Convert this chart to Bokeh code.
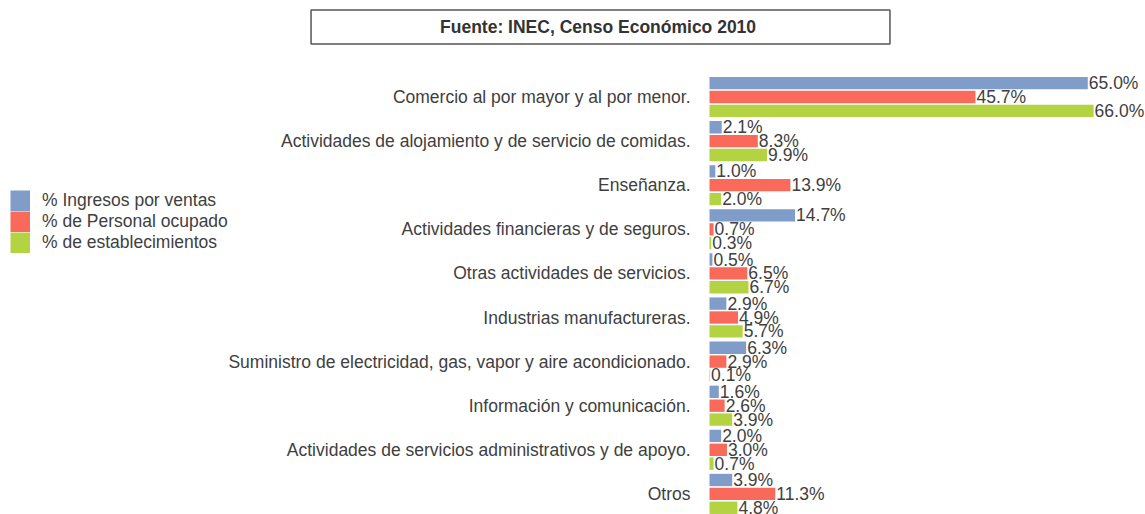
from bokeh.plotting import figure
from bokeh.models import ColumnDataSource, Range1d, Legend, LegendItem, Label
from bokeh.core.properties import value
from bokeh.embed import file_html
from bokeh.resources import INLINE

categories = [
    "Comercio al por mayor y al por menor.",
    "Actividades de alojamiento y de servicio de comidas.",
    "Enseñanza.",
    "Actividades financieras y de seguros.",
    "Otras actividades de servicios.",
    "Industrias manufactureras.",
    "Suministro de electricidad, gas, vapor y aire acondicionado.",
    "Información y comunicación.",
    "Actividades de servicios administrativos y de apoyo.",
    "Otros",
]
ingresos = [65.0, 2.1, 1.0, 14.7, 0.5, 2.9, 6.3, 1.6, 2.0, 3.9]
personal = [45.7, 8.3, 13.9, 0.7, 6.5, 4.9, 2.9, 2.6, 3.0, 11.3]
establecimientos = [66.0, 9.9, 2.0, 0.3, 6.7, 5.7, 0.1, 3.9, 0.7, 4.8]

series_names = ["% Ingresos por ventas", "% de Personal ocupado", "% de establecimientos"]
series_values = [ingresos, personal, establecimientos]
colors = ["#7f9dc8", "#f96a5a", "#b4d342"]
offsets = [-0.315, 0.0, 0.315]

FONT = value("Liberation Sans")
TXT = "#404040"
FS = "17.5px"

W, H = 1145, 514
PX_PER_PCT = 5.82
PX_PER_CAT = 44.1
x0_px, y0_px = 709, 96.5   # where 0% and the first category sit

p = figure(width=W, height=H, output_backend="svg", toolbar_location=None,
           x_range=Range1d(-x0_px / PX_PER_PCT, (W - x0_px) / PX_PER_PCT),
           y_range=Range1d((H - y0_px) / PX_PER_CAT, -y0_px / PX_PER_CAT),
           x_axis_location=None, y_axis_location=None,
           min_border=0, outline_line_color=None)
p.grid.visible = False

pos = list(range(len(categories)))

# category labels, right-aligned just left of the bars
cat_src = ColumnDataSource(dict(y=pos, name=categories))
p.text(x=0, y="y", text="name", source=cat_src, x_offset=-19,
       text_align="right", text_baseline="middle",
       text_font=FONT, text_font_size=FS, text_color=TXT)

legend_items = []
for name, vals, col, off in zip(series_names, series_values, colors, offsets):
    src = ColumnDataSource(dict(
        y=[i + off for i in pos],
        v=vals,
        lab=[f"{v:.1f}%" for v in vals],
    ))
    p.hbar(y="y", left=0, right="v", height=0.28, source=src,
           fill_color=col, line_color=None)
    p.text(x="v", y="y", text="lab", source=src, x_offset=1,
           text_align="left", text_baseline="middle",
           text_font=FONT, text_font_size=FS, text_color=TXT)
    # swatch renderer for the legend (solid block), no visible data
    sw = p.line(x=[float("nan"), float("nan")], y=[float("nan"), float("nan")],
                line_color=col, line_width=21)
    legend_items.append(LegendItem(label=name, renderers=[sw]))

legend = Legend(items=legend_items,
                location=(10, H - 253), glyph_width=20, glyph_height=21,
                label_height=21, spacing=0, padding=0, margin=0,
                label_standoff=12, border_line_color=None,
                background_fill_alpha=0,
                label_text_font="Liberation Sans", label_text_font_size=FS,
                label_text_color=TXT, label_text_baseline="middle")
p.add_layout(legend, "center")

title = Label(x=600, y=H - 26.5, x_units="screen", y_units="screen",
              text="Fuente:  INEC, Censo Económico 2010",
              text_align="center", text_baseline="middle",
              text_font="Liberation Sans", text_font_size="17.5px", text_font_style="bold",
              text_color="#333333",
              border_line_color="#555555", border_line_width=1.5,
              background_fill_color="white",
              padding={"left": 129, "right": 129, "top": 7, "bottom": 7})
p.add_layout(title)

open("out.html", "w").write(file_html(p, INLINE))
